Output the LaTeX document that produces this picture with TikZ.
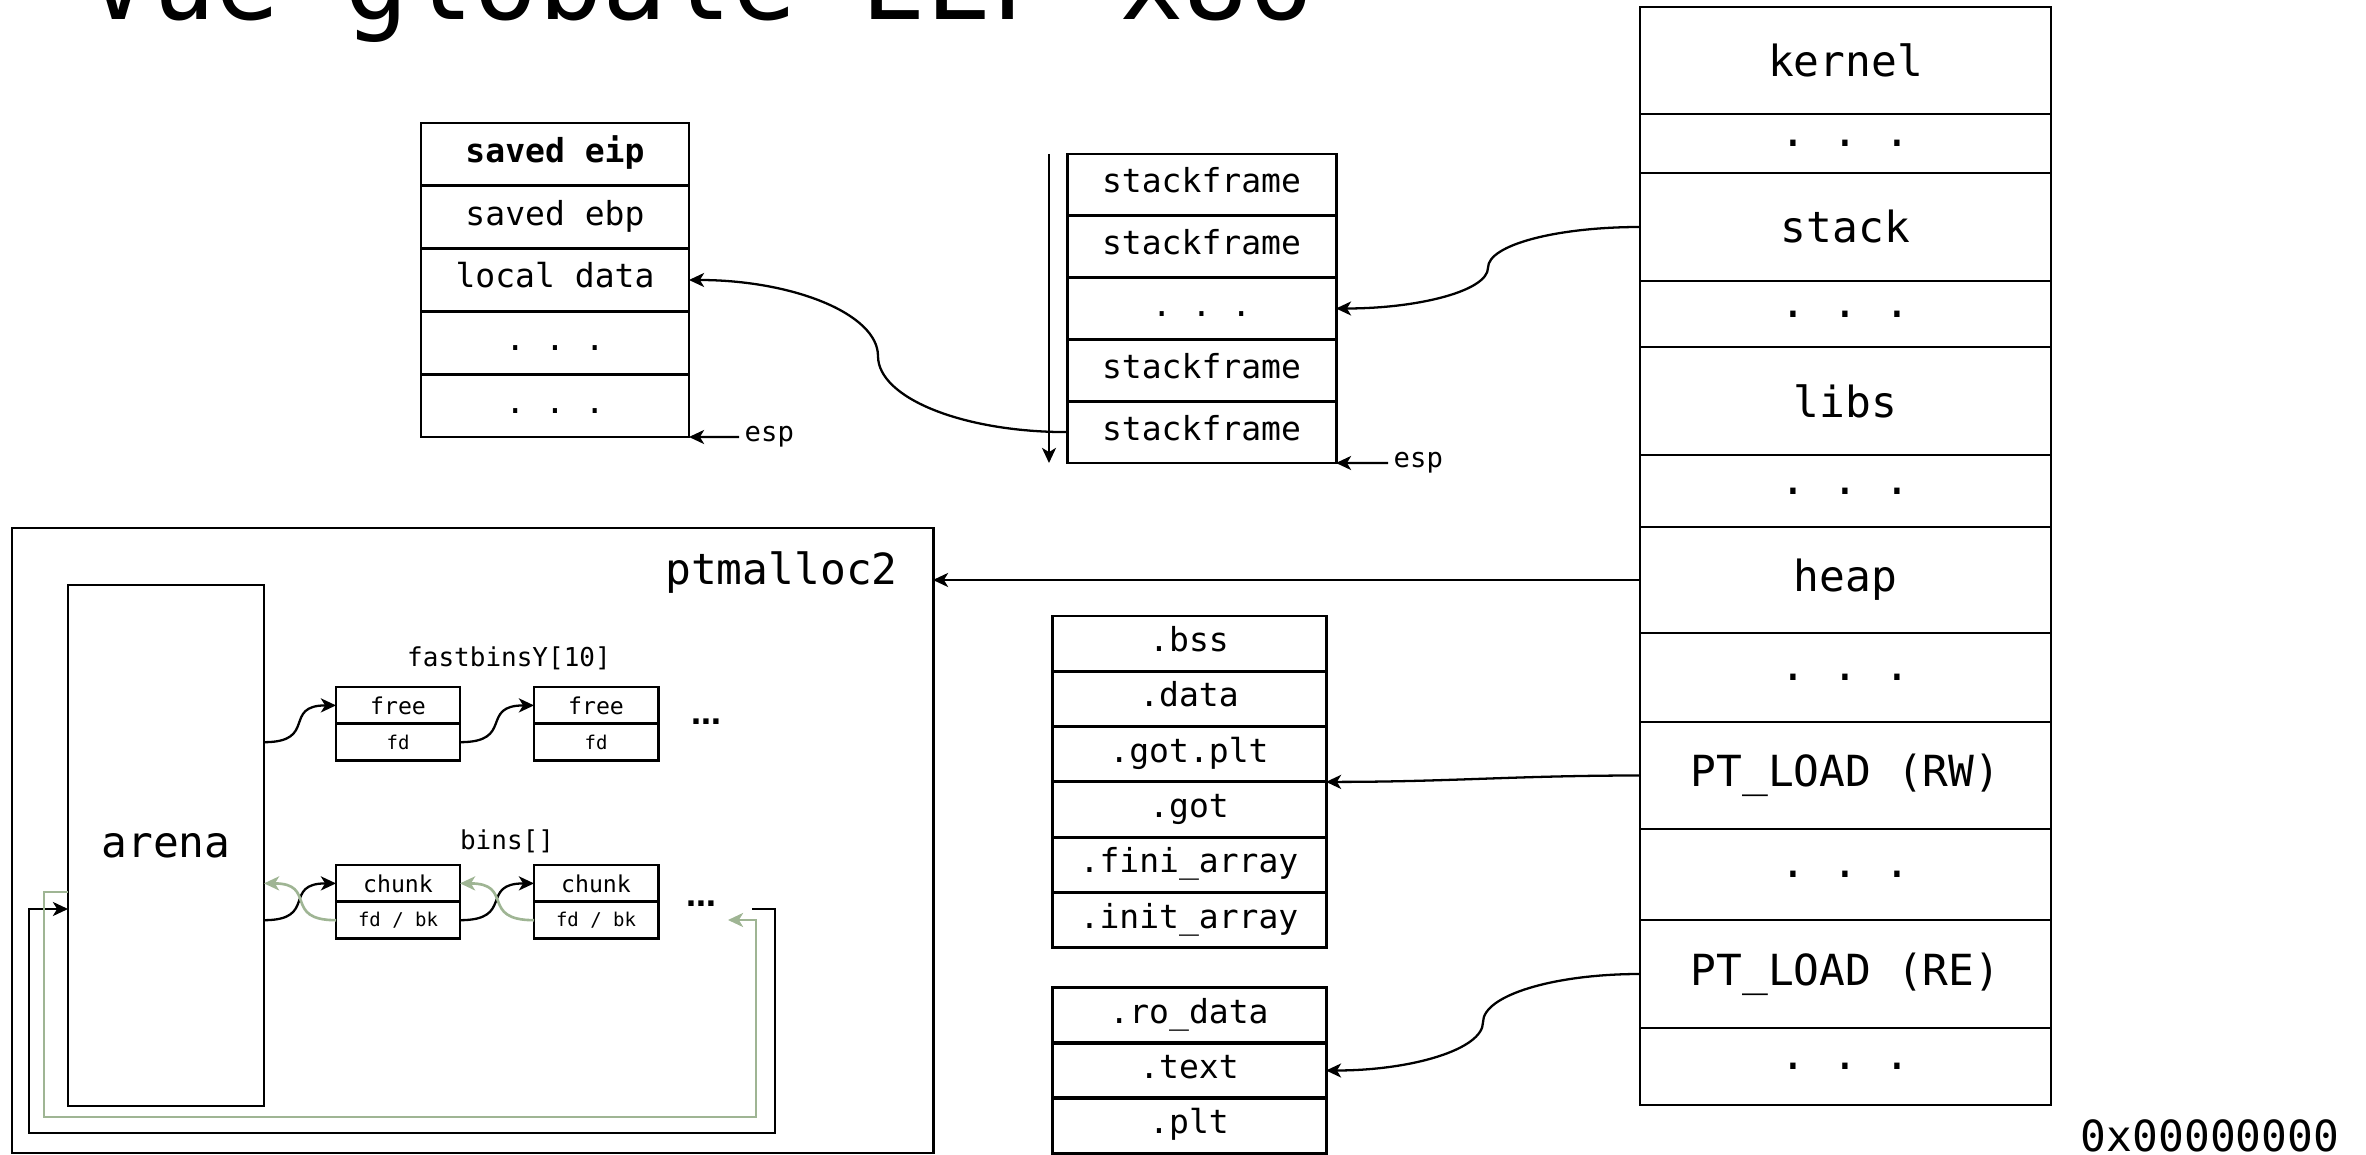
\documentclass[tikz,border=0pt]{standalone}
\usepackage{fontspec}
\setmonofont{DejaVu Sans Mono}
\newfontfamily\dotsans{DejaVu Sans}
\usepackage{tikz}
\usetikzlibrary{positioning, arrows.meta, calc}
\definecolor{binGreen}{HTML}{9FB594}
\newcommand{\titlefont}{\ttfamily\fontsize{30.5}{34}\selectfont}
\newcommand{\memfont}{\ttfamily\fontsize{12.2}{14}\selectfont}
\newcommand{\cellfont}{\ttfamily\fontsize{9.4}{11}\selectfont}
\newcommand{\espfont}{\ttfamily\fontsize{7.75}{9}\selectfont}
\newcommand{\binfont}{\ttfamily\fontsize{7.4}{9}\selectfont}
\newcommand{\chunkfont}{\ttfamily\fontsize{6.6}{8}\selectfont}
\newcommand{\ptrfont}{\ttfamily\fontsize{5.4}{6.5}\selectfont}
\newcommand{\morefont}{\dotsans\bfseries\fontsize{8.5}{10}\selectfont}

\begin{document}
\begin{tikzpicture}[
  memrow/.style={draw, line width=0.6pt, minimum width=4.11cm,
                 inner sep=0pt, outer sep=0pt, font=\memfont},
  cell/.style={draw, line width=0.85pt, inner sep=0pt, outer sep=0pt,
               font=\cellfont, text height=6.5pt, text depth=2pt},
  cellA/.style={cell, minimum width=2.68cm, minimum height=0.628cm},
  cellB/.style={cell, minimum width=2.69cm, minimum height=0.618cm},
  cellC/.style={cell, minimum width=2.74cm, minimum height=0.553cm},
  chunkbox/.style={draw, line width=0.85pt, minimum width=1.24cm,
                   minimum height=0.368cm, inner sep=0pt, outer sep=0pt},
  arr/.style={-{Stealth[length=4.3pt, width=4pt, inset=1.2pt]}, line width=0.65pt},
  garr/.style={arr, binGreen, line width=0.75pt}
]
\useasboundingbox (0,0) rectangle (23.66,-11.55);

\node[anchor=base west, inner sep=0pt, font=\titlefont] (title) at (0.86,-0.20) {Vue globale ELF x86};

% memory map
\node[memrow, minimum height=1.07cm] (kernel) at (18.455,-0.605) {kernel};
\node[memrow, minimum height=0.59cm] (dots1) at (18.455,-1.435) {. . .};
\node[memrow, minimum height=1.08cm] (stack) at (18.455,-2.27) {stack};
\node[memrow, minimum height=0.66cm] (dots2) at (18.455,-3.14) {. . .};
\node[memrow, minimum height=1.08cm] (libs) at (18.455,-4.01) {libs};
\node[memrow, minimum height=0.72cm] (dots3) at (18.455,-4.91) {. . .};
\node[memrow, minimum height=1.06cm] (heap) at (18.455,-5.80) {heap};
\node[memrow, minimum height=0.89cm] (dots4) at (18.455,-6.775) {. . .};
\node[memrow, minimum height=1.07cm] (ptrw) at (18.455,-7.755) {PT\_LOAD (RW)};
\node[memrow, minimum height=0.91cm] (dots5) at (18.455,-8.745) {. . .};
\node[memrow, minimum height=1.08cm] (ptre) at (18.455,-9.74) {PT\_LOAD (RE)};
\node[memrow, minimum height=0.77cm] (dots6) at (18.455,-10.665) {. . .};
\node[font=\memfont] (addr) at (22.10,-11.36) {0x00000000};

% stack frame
\node[cellA] (eip) at (5.55,-1.544) {\textbf{saved eip}};
\node[cellA] (ebp) at (5.55,-2.172) {saved ebp};
\node[cellA] (local) at (5.55,-2.80) {local data};
\node[cellA] (adots1) at (5.55,-3.428) {. . .};
\node[cellA] (adots2) at (5.55,-4.056) {. . .};
\node[font=\espfont, anchor=west, inner sep=0.05cm] (espa) at (7.39,-4.37) {esp};

% stack
\node[cellB] (sf1) at (12.015,-1.849) {stackframe};
\node[cellB] (sf2) at (12.015,-2.467) {stackframe};
\node[cellB] (bdots) at (12.015,-3.085) {. . .};
\node[cellB] (sf3) at (12.015,-3.703) {stackframe};
\node[cellB] (sf4) at (12.015,-4.321) {stackframe};
\node[font=\espfont, anchor=west, inner sep=0.05cm] (espb) at (13.88,-4.63) {esp};

% sections
\node[cellC] (bss) at (11.89,-6.4365) {.bss};
\node[cellC] (data) at (11.89,-6.9895) {.data};
\node[cellC] (gotplt) at (11.89,-7.5425) {.got.plt};
\node[cellC] (got) at (11.89,-8.0955) {.got};
\node[cellC] (fini) at (11.89,-8.6485) {.fini\_array};
\node[cellC] (init) at (11.89,-9.2015) {.init\_array};
\node[cellC] (rodata) at (11.89,-10.155) {.ro\_data};
\node[cellC] (text) at (11.89,-10.705) {.text};
\node[cellC] (plt) at (11.89,-11.255) {.plt};

% ptmalloc2
\node[draw, line width=0.85pt, minimum width=9.21cm, minimum height=6.25cm,
      inner sep=0pt, outer sep=0pt] (ptm) at (4.725,-8.405) {};
\node[font=\memfont] (ptmlabel) at (7.815,-5.73) {ptmalloc2};
\node[draw, line width=0.6pt, minimum width=1.96cm, minimum height=5.21cm,
      inner sep=0pt, outer sep=0pt, font=\memfont] (arena) at (1.66,-8.455) {arena};
\node[font=\binfont] (fastlabel) at (5.09,-6.58) {fastbinsY[10]};
\node[chunkbox, font=\chunkfont] (free1) at (3.98,-7.054) {free};
\node[chunkbox, font=\ptrfont] (fd1) at (3.98,-7.422) {fd};
\node[chunkbox, font=\chunkfont] (free2) at (5.96,-7.054) {free};
\node[chunkbox, font=\ptrfont] (fd2) at (5.96,-7.422) {fd};
\node[font=\morefont] (fastmore) at (7.06,-7.22) {…};
\node[font=\binfont] (binlabel) at (5.07,-8.41) {bins[]};
\node[chunkbox, font=\chunkfont] (chunk1) at (3.98,-8.834) {chunk};
\node[chunkbox, font=\ptrfont] (fdbk1) at (3.98,-9.202) {fd / bk};
\node[chunkbox, font=\chunkfont] (chunk2) at (5.96,-8.834) {chunk};
\node[chunkbox, font=\ptrfont] (fdbk2) at (5.96,-9.202) {fd / bk};
\node[font=\morefont] (binmore) at (7.01,-9.04) {…};
\coordinate (wrapout) at (7.52,-9.09);
\coordinate (wrapin) at (7.28,-9.20);
\coordinate (greenout) at (0.68,-8.92);

% links
\coordinate (mstack) at ($(stack.west)!0.5!(bdots.east)$);
\coordinate (mframe) at ($(sf4.west)!0.5!(local.east)$);
\coordinate (mre) at ($(ptre.west)!0.5!(text.east)$);

\draw[arr] (stack.west) to[out=180, in=90, out distance=0.83cm, in distance=0.23cm] (mstack)
  to[out=-90, in=0, out distance=0.23cm, in distance=0.83cm] (bdots.east);
\draw[arr] (sf4.west) to[out=180, in=-90, out distance=1.04cm, in distance=0.42cm] (mframe)
  to[out=90, in=0, out distance=0.42cm, in distance=1.04cm] (local.east);
\draw[arr] (ptre.west) to[out=180, in=90, out distance=0.86cm, in distance=0.27cm] (mre)
  to[out=-90, in=0, out distance=0.27cm, in distance=0.86cm] (text.east);
\draw[arr] (ptrw.west) to[out=180, in=0] (gotplt.south east);
\draw[arr] (heap.west) -- (heap.west -| ptm.east);
\draw[arr] (espa.west) -- (adots2.south east);
\draw[arr] (espb.west) -- (sf4.south east);
\draw[arr] ([xshift=-0.18cm]sf1.north west) -- ([xshift=-0.18cm]sf4.south west);

\draw[arr] (arena.east |- fd1) to[out=0, in=180, looseness=1.7] (free1.west);
\draw[arr] (fd1.east) to[out=0, in=180, looseness=1.7] (free2.west);
\draw[arr] (arena.east |- fdbk1) to[out=0, in=180, looseness=1.7] (chunk1.west);
\draw[arr] (fdbk1.east) to[out=0, in=180, looseness=1.7] (chunk2.west);
\draw[garr] (fdbk1.west) to[out=180, in=0, looseness=1.7] (arena.east |- chunk1);
\draw[garr] (fdbk2.west) to[out=180, in=0, looseness=1.7] (chunk1.east);
\draw[arr] (wrapout) -| (7.75,-11.33) -| (0.29,-9.09) -- (arena.west |- wrapout);
\draw[garr] (greenout) -| (0.44,-11.17) -| (7.56,-9.20) -- (wrapin);
\end{tikzpicture}
\end{document}
